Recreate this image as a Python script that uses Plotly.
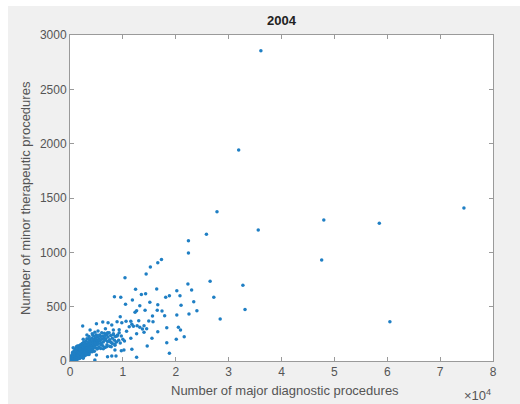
import plotly.graph_objects as go

# Data: x = number of major diagnostic procedures, y = number of minor therapeutic procedures
core_x = [0.01,0.02,0.02,0.03,0.03,0.04,0.04,0.05,0.05,0.05,0.06,0.06,0.07,0.07,0.08,0.08,0.08,0.09,0.09,0.10,
          0.10,0.10,0.11,0.11,0.12,0.12,0.12,0.13,0.13,0.14,0.14,0.15,0.15,0.16,0.16,0.17,0.17,0.18,0.18,0.19,
          0.19,0.20,0.20,0.20,0.21,0.21,0.22,0.22,0.23,0.23,0.24,0.24,0.25,0.25,0.26,0.26,0.27,0.27,0.28,0.28,
          0.29,0.29,0.30,0.30,0.31,0.31,0.32,0.32,0.33,0.33,0.34,0.34,0.35,0.35,0.36,0.36,0.37,0.37,0.38,0.38,
          0.39,0.40,0.40,0.41,0.41,0.42,0.42,0.43,0.44,0.44,0.45,0.45,0.46,0.47,0.47,0.48,0.48,0.49,0.50,0.50,
          0.51,0.52,0.52,0.53,0.54,0.55,0.56,0.57,0.58,0.59,0.60,0.60,0.62,0.63,0.64,0.65,0.66,0.67,0.68,0.70,
          0.71,0.72,0.74,0.75,0.77,0.78,0.80,0.82,0.84,0.86,0.88,0.90,
          0.00,0.01,0.01,0.02,0.03,0.04,0.04,0.05,0.06,0.07,0.07,0.08,0.09,0.10,0.11,0.13,0.14,0.16,0.18,0.19,
          0.21,0.23,0.26,0.28,0.30,0.33,0.36,0.39,0.43,0.46,0.51,0.55,0.58,0.62,0.66,0.70,0.75,0.80,0.85,0.92,
          0.95,1.00,0.97,1.03]
core_y = [5,12,30,8,45,20,60,15,35,80,3,50,25,65,10,40,95,55,30,18,
          70,110,45,85,8,60,130,35,100,75,50,20,120,90,65,40,140,80,105,55,
          125,30,95,150,70,115,45,135,88,160,60,110,130,25,95,175,75,145,115,50,
          160,90,130,185,70,110,150,205,95,125,170,60,140,200,105,225,160,80,130,190,
          115,175,150,210,95,135,250,185,160,120,200,230,145,180,265,125,215,170,195,240,
          150,220,180,275,160,205,240,185,225,150,260,200,230,175,215,255,190,235,205,245,
          180,220,260,195,235,170,210,250,190,225,175,240,
          2,15,25,4,18,6,35,55,22,10,45,70,15,40,28,12,30,48,22,70,
          35,52,40,80,55,75,60,85,100,90,110,130,115,140,125,150,135,160,145,190,
          165,200,230,185]

mid_x = [0.24,0.38,0.50,0.43,0.32,0.25,0.14,0.06,0.10,0.19,0.29,0.38,0.47,0.55,0.53,0.42,0.30,0.50,0.47,
         2.24,1.73,1.66,1.52,1.44,1.04,2.23,2.30,1.24,1.64,2.02,0.84,0.96,1.35,1.43,1.81,1.88,2.08,1.18,1.51,
         2.34,1.05,1.32,1.66,2.10,2.40,1.26,1.23,1.42,1.65,1.74,0.95,1.56,1.79,2.02,2.25,0.62,0.72,0.79,0.89,
         0.98,1.06,1.15,1.17,1.12,1.20,1.27,1.32,1.40,1.37,1.45,1.49,1.57,1.30,1.83,2.05,2.09,1.66,1.40,1.26,
         1.07,0.93,0.82,0.67,0.71,0.82,0.89,0.93,1.15,1.55,2.01,2.16,1.83,1.46,1.17,1.02,0.97,0.71,0.79,0.87,
         1.26,1.88,0.63,0.69,0.59,0.66,0.76,0.85,0.78,0.85,2.24]
mid_y = [322,285,343,239,239,200,138,122,95,108,144,168,163,193,117,86,64,55,9,
         994,935,905,865,800,766,708,653,660,662,647,592,586,613,619,586,601,601,561,540,
         546,522,509,518,512,463,463,448,466,466,460,408,414,417,423,432,359,352,331,362,
         352,365,365,338,316,319,325,310,325,294,297,368,362,371,306,310,285,270,264,251,
         273,288,285,297,260,242,230,260,209,209,200,224,168,138,108,101,95,40,46,46,
         34,71,113,132,163,200,178,156,132,101,1107]

outlier_x = [3.61,3.19,2.78,2.58,3.56,4.80,5.85,7.45,4.76,2.65,3.27,2.72,3.31,2.84,6.05]
outlier_y = [2855,1941,1374,1166,1205,1297,1267,1408,929,733,696,586,475,386,362]

x_tick_vals = [0, 10000, 20000, 30000, 40000, 50000, 60000, 70000, 80000]
x_tick_text = ["0", "1", "2", "3", "4", "5", "6", "7", "8"]
y_tick_vals = [0, 500, 1000, 1500, 2000, 2500, 3000]

xs = [v * 10000 for v in core_x + mid_x + outlier_x]
ys = core_y + mid_y + outlier_y

W, H = 520, 404
ML, MR, MT, MB = 70, 27, 35, 43
PW, PH = W - ML - MR, H - MT - MB

fig = go.Figure(go.Scatter(
    x=xs, y=ys, mode="markers",
    marker=dict(color="#1f7fc4", size=3.5, line=dict(width=0)),
    hoverinfo="skip",
))

axis_common = dict(
    showline=True, linecolor="#9a9a9a", linewidth=1, mirror="ticks",
    ticks="inside", ticklen=4, tickcolor="#9a9a9a",
    showgrid=False, zeroline=False,
    tickfont=dict(family="Liberation Sans, Arial, sans-serif", size=12, color="#555555"),
)

fig.update_layout(
    width=W, height=H,
    margin=dict(l=ML, r=MR, t=MT, b=MB, pad=0),
    paper_bgcolor="#f0f0f0", plot_bgcolor="#ffffff",
    showlegend=False,
    font=dict(family="Liberation Sans, Arial, sans-serif", color="#555555"),
    xaxis=dict(range=[0, 80000], tickvals=x_tick_vals, ticktext=x_tick_text, **axis_common),
    yaxis=dict(range=[0, 3000], tickvals=y_tick_vals, **axis_common),
    shapes=[
        dict(type="rect", xref="paper", yref="paper",
             x0=-ML / PW, x1=1 + MR / PW, y0=1 + (MT - 6) / PH, y1=1 + MT / PH,
             fillcolor="white", line=dict(width=0), layer="below"),
        dict(type="rect", xref="paper", yref="paper",
             x0=-ML / PW, x1=(8 - ML) / PW, y0=-MB / PH, y1=1 + MT / PH,
             fillcolor="white", line=dict(width=0), layer="below"),
    ],
    annotations=[
        dict(text="<b>2004</b>", xref="paper", yref="paper", x=0.5, y=1 + (MT - 20) / PH,
             xanchor="center", yanchor="middle", showarrow=False,
             font=dict(size=13, color="#222222")),
        dict(text="Number of major diagnostic procedures", xref="paper", yref="paper",
             x=(285 - ML) / PW, y=-(390 - (H - MB)) / PH, xanchor="center", yanchor="middle",
             showarrow=False, font=dict(size=13, color="#555555")),
        dict(text="Number of minor therapeutic procedures", xref="paper", yref="paper",
             x=(25 - ML) / PW, y=0.5, xanchor="center", yanchor="middle", textangle=-90,
             showarrow=False, font=dict(size=13, color="#555555")),
        dict(text="×10<sup>4</sup>", xref="paper", yref="paper",
             x=(493 - ML) / PW, y=-(395 - (H - MB)) / PH, xanchor="right", yanchor="middle",
             showarrow=False, font=dict(size=13, color="#555555")),
    ],
)

fig.write_html("out.html")
